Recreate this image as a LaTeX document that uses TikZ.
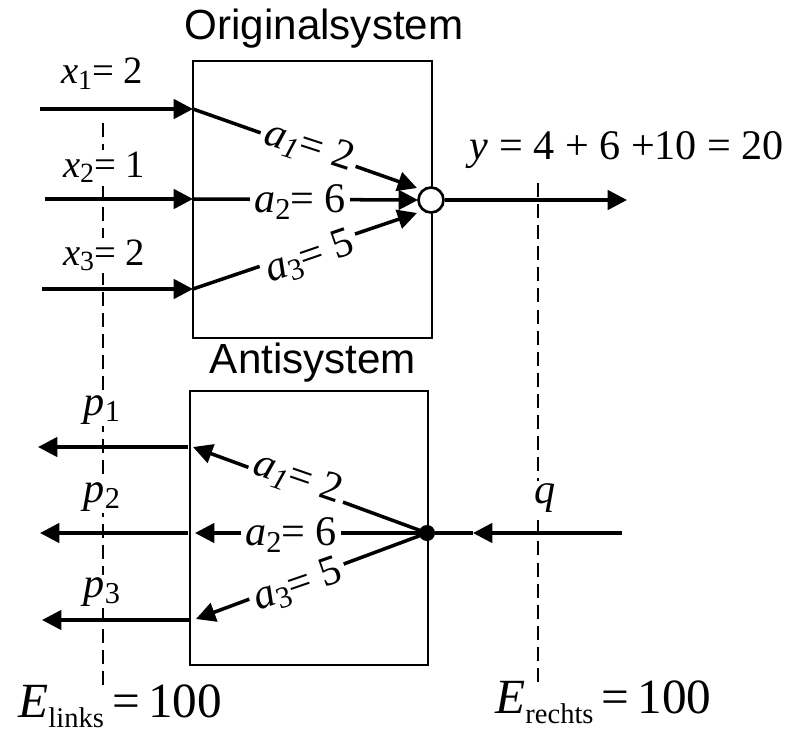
\documentclass[tikz,border=0pt]{standalone}
\usepackage{graphicx}
\usepackage{fontspec}
\setmainfont{Liberation Serif}
\setsansfont{Liberation Sans}
\usetikzlibrary{arrows.meta}
\newcommand\lo[1]{\raisebox{-0.32ex}{\scalebox{0.72}{#1}}}
\newcommand\loE[1]{\raisebox{-0.45ex}{\scalebox{0.58}{#1}}}
\begin{document}
\begin{tikzpicture}[x=0.02cm,y=-0.02cm,
  box/.style={draw, line width=1.5pt, inner sep=0pt},
  ln/.style={line width=2pt},
  arr/.style={line width=2pt, -{Triangle[length=11pt,width=11pt]}},
  guide/.style={line width=1.5pt, dash pattern=on 8pt off 4pt},
  title/.style={font=\sffamily\fontsize{24}{26}\selectfont, anchor=base, inner sep=0pt},
  xl/.style={font=\fontsize{22}{24}\selectfont, anchor=base, fill=white, inner sep=1pt},
  al/.style={font=\fontsize{24}{26}\selectfont, fill=white, inner sep=2.5pt},
  pl/.style={font=\fontsize{24}{26}\selectfont, anchor=base, fill=white, inner sep=1pt},
  yl/.style={font=\fontsize{24}{26}\selectfont, anchor=base, inner sep=0pt},
  el/.style={font=\fontsize{28}{30}\selectfont, anchor=base west, inner sep=0pt},
]
\useasboundingbox (0,0) rectangle (800,733);

% guide lines
\coordinate (gl1) at (103,123);
\coordinate (gl2) at (103,688);
\coordinate (gr1) at (538,183);
\coordinate (gr2) at (538,687);
\draw[guide] (gl1) -- (gl2);
\draw[guide] (gr1) -- (gr2);

% titles
\node[title] (t1) at (324,40) {Originalsystem};
\node[title] (t2) at (313,373) {Antisystem};

% boxes
\node[box, minimum width=4.78cm, minimum height=5.54cm] (orig) at (312.5,199.5) {};
\node[box, minimum width=4.76cm, minimum height=5.48cm] (anti) at (309,528) {};

% original system
\node[circle, draw, fill=white, line width=1.5pt, minimum size=0.5cm, inner sep=0pt] (sum) at (431,200) {};
\coordinate (x1s) at (40,109);
\coordinate (x2s) at (45,199);
\coordinate (x3s) at (42,289);
\coordinate (x1e) at (193,109);
\coordinate (x2e) at (193,199);
\coordinate (x3e) at (193,289);
\coordinate (s1) at (417,188);
\coordinate (s2) at (418,200);
\coordinate (s3) at (417,213);
\coordinate (yend) at (627,200);
\draw[arr] (x1s) -- (x1e);
\draw[arr] (x2s) -- (x2e);
\draw[arr] (x3s) -- (x3e);
\draw[arr] (x1e) -- (s1);
\draw[arr] (x2e) -- (s2);
\draw[arr] (x3e) -- (s3);
\draw[arr] (sum) -- (yend);

\node[xl] (lx1) at (102,84) {\textit{x}\lo{1}= 2};
\node[xl] (lx2) at (104,177) {\textit{x}\lo{2}= 1};
\node[xl] (lx3) at (104,265) {\textit{x}\lo{3}= 2};

\node[al, rotate=-18] (la1) at (309,147) {\textit{a}\lo{\textit{1}}= 2};
\node[al] (la2) at (300,202) {\textit{a}\lo{2}= 6};
\node[al, rotate=19] (la3) at (310,258) {\textit{a}\lo{3}= 5};

\node[yl] (ly) at (627,160) {\textit{y} = 4 + 6 +10 = 20};

% antisystem
\node[circle, fill, minimum size=0.32cm, inner sep=0pt] (dot) at (427,533) {};
\coordinate (qs) at (622,533);
\coordinate (qm) at (473,533);
\coordinate (b1) at (193,447);
\coordinate (b2) at (195,533);
\coordinate (b3) at (196,619);
\coordinate (p1s) at (188,447);
\coordinate (p2s) at (188,533);
\coordinate (p3s) at (190,620);
\coordinate (p1e) at (38,447);
\coordinate (p2e) at (40,533);
\coordinate (p3e) at (42,620);
\draw[arr] (qs) -- (qm);
\draw[ln] (qm) -- (dot);
\draw[arr] (dot.center) -- (b1);
\draw[arr] (dot.center) -- (b2);
\draw[arr] (dot.center) -- (b3);
\draw[arr] (p1s) -- (p1e);
\draw[arr] (p2s) -- (p2e);
\draw[arr] (p3s) -- (p3e);

\node[al, rotate=-19] (lb1) at (298,478) {\textit{a}\lo{\textit{1}}= 2};
\node[al] (lb2) at (291,535) {\textit{a}\lo{2}= 6};
\node[al, rotate=19] (lb3) at (298,586) {\textit{a}\lo{3}= 5};

\node[pl] (lp1) at (102,415) {\textit{p}\lo{1}};
\node[pl] (lp2) at (102,502) {\textit{p}\lo{2}};
\node[pl] (lp3) at (102,597) {\textit{p}\lo{3}};
\node[pl] (lq) at (545,503) {\textit{q}};

% energies
\node[el] (el) at (18,717) {\textit{E}\loE{links}\,=\,100};
\node[el] (er) at (495,713) {\textit{E}\loE{rechts}\,=\,100};
\end{tikzpicture}
\end{document}
